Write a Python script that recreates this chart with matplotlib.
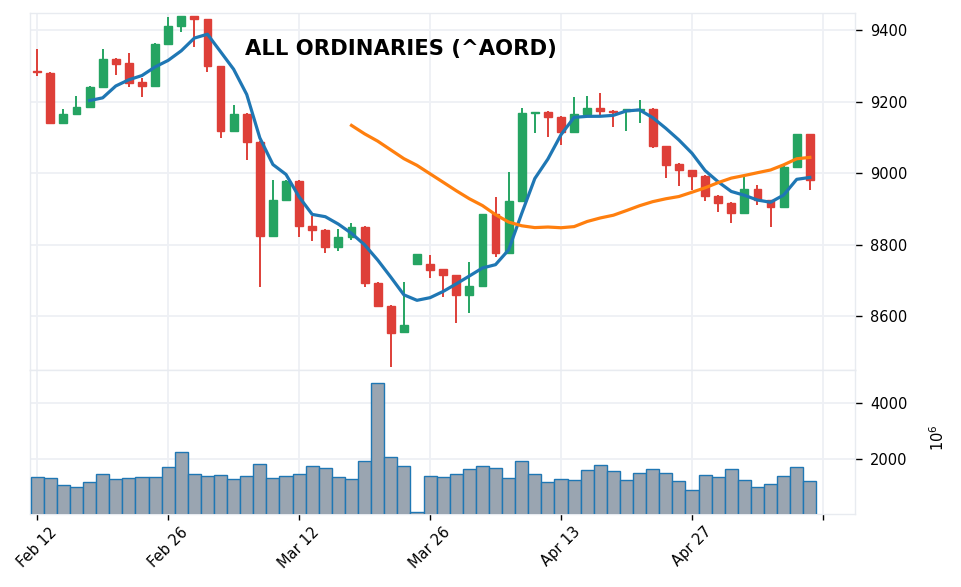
import numpy as np
import pandas as pd
import matplotlib
matplotlib.use("Agg")
import matplotlib.pyplot as plt

# ---------------- data ----------------
opens = [9285, 9281, 9139, 9164, 9184, 9241, 9320, 9307, 9254, 9245,
         9361, 9412, 9440, 9431, 9299, 9118, 9166, 9088, 8824, 8925,
         8979, 8853, 8842, 8792, 8820, 8850, 8693, 8629, 8554, 8746,
         8747, 8731, 8715, 8659, 8684, 8885, 8776, 8923, 9168, 9172,
         9158, 9116, 9166, 9183, 9175, 9175, 9176, 9180, 9076, 9026,
         9009, 8993, 8937, 8917, 8889, 8955, 8925, 8906, 9018, 9109]
highs = [9347, 9283, 9179, 9215, 9243, 9347, 9321, 9337, 9265, 9363,
         9437, 9440, 9441, 9432, 9300, 9190, 9167, 9089, 8980, 8980,
         8980, 8880, 8843, 8843, 8859, 8851, 8694, 8630, 8696, 8773,
         8771, 8732, 8716, 8750, 8886, 8932, 9002, 9181, 9172, 9173,
         9159, 9214, 9216, 9223, 9176, 9179, 9204, 9181, 9077, 9027,
         9010, 8994, 8938, 8918, 8990, 8966, 8926, 9019, 9110, 9110]
lows = [9272, 9137, 9138, 9162, 9183, 9240, 9274, 9240, 9213, 9244,
        9360, 9395, 9353, 9283, 9099, 9117, 9036, 8682, 8823, 8924,
        8822, 8811, 8777, 8783, 8813, 8682, 8627, 8457, 8553, 8745,
        8707, 8652, 8580, 8608, 8683, 8764, 8775, 8922, 9111, 9102,
        9080, 9115, 9165, 9162, 9128, 9118, 9141, 9069, 8985, 8965,
        8953, 8923, 8890, 8859, 8888, 8911, 8850, 8905, 9017, 8954]
closes = [9282, 9139, 9166, 9186, 9242, 9320, 9305, 9253, 9245, 9362,
          9412, 9439, 9431, 9299, 9118, 9166, 9086, 8824, 8926, 8979,
          8852, 8841, 8792, 8822, 8850, 8692, 8628, 8553, 8574, 8773,
          8729, 8715, 8659, 8684, 8885, 8776, 8922, 9169, 9172, 9158,
          9116, 9165, 9183, 9173, 9171, 9178, 9179, 9075, 9024, 9008,
          8992, 8937, 8917, 8889, 8955, 8925, 8906, 9018, 9109, 8981]
volumes = [1345, 1309, 1054, 982, 1176, 1467, 1273, 1309, 1345, 1345,
           1709, 2254, 1467, 1382, 1418, 1273, 1382, 1830, 1309, 1382,
           1467, 1745, 1673, 1345, 1273, 1927, 4727, 2073, 1745, 85,
           1382, 1345, 1454, 1636, 1745, 1673, 1309, 1927, 1454, 1164,
           1273, 1236, 1600, 1782, 1564, 1236, 1491, 1636, 1491, 1200,
           873, 1418, 1345, 1636, 1236, 982, 1091, 1382, 1709, 1200]
tick_positions = [0, 10, 20, 30, 40, 50, 60]
tick_labels = ["Feb 12", "Feb 26", "Mar 12", "Mar 26", "Apr 13", "Apr 27", ""]
mav_windows = [5, 25]
title = "ALL ORDINARIES (^AORD)"

# ---------------- style ----------------
UP = "#25a462"
DOWN = "#de3f38"
GRID = "#eef0f5"
SPINE = "#e8ebf0"
MA_COLORS = ["#1f77b4", "#ff7f0e"]

plt.rcParams["font.family"] = ["DejaVu Sans"]

fig = plt.figure(figsize=(9.61, 5.87), dpi=100)
ax = fig.add_axes([30 / 961, 1 - 370 / 587, 825 / 961, 357 / 587])
axv = fig.add_axes([30 / 961, 1 - 514 / 587, 825 / 961, 144 / 587], sharex=ax)

x = np.arange(len(closes))
o = np.array(opens, float)
h = np.array(highs, float)
l = np.array(lows, float)
c = np.array(closes, float)
colors = [UP if cc >= oo else DOWN for oo, cc in zip(o, c)]

for a in (ax, axv):
    a.set_axisbelow(True)
    a.grid(True, color=GRID, linewidth=1.3)
    for s in a.spines.values():
        s.set_color(SPINE)
        s.set_linewidth(1.0)

# wicks
ax.vlines(x, l, h, colors=colors, linewidth=1.4, zorder=2)
# bodies
bottoms = np.minimum(o, c)
heights = np.maximum(np.abs(c - o), 1.0)
ax.bar(x, heights, bottom=bottoms, width=0.6, color=colors, edgecolor=colors,
       linewidth=1.0, zorder=3)

# moving averages
cs = pd.Series(c)
for w, col in zip(mav_windows, MA_COLORS):
    ma = cs.rolling(w).mean()
    ax.plot(x, ma, color=col, linewidth=2.3, zorder=4)

ax.set_ylim(8449, 9448)
ax.set_xlim(-0.55, 62.45)
ax.yaxis.tick_right()
ax.set_yticks([8600, 8800, 9000, 9200, 9400])
ax.tick_params(axis="y", direction="out", length=5, width=1, pad=6,
               labelsize=10.5, colors="black")
ax.tick_params(axis="x", bottom=False, labelbottom=False)

# volume
axv.bar(x, volumes, width=1.0, color="#9aa5b1", edgecolor="#1f77b4",
        linewidth=1.0, zorder=3)
axv.set_ylim(25, max(volumes) * 1.1)
axv.yaxis.tick_right()
axv.set_yticks([2000, 4000])
axv.tick_params(axis="y", direction="out", length=5, width=1, pad=6,
                labelsize=10.5, colors="black")
axv.set_xticks(tick_positions)
axv.set_xticklabels(tick_labels, rotation=45, ha="center", fontsize=10.5)
axv.tick_params(axis="x", direction="out", length=4, width=1, colors="black")

fig.text(938 / 961, 1 - 438 / 587, "$10^{6}$", rotation=90, ha="center",
         va="center", fontsize=10.5)
fig.text(401 / 961, 1 - 49 / 587, title, ha="center", va="center",
         fontsize=15.2, fontweight="bold")

fig.savefig("out.png", dpi=100)
